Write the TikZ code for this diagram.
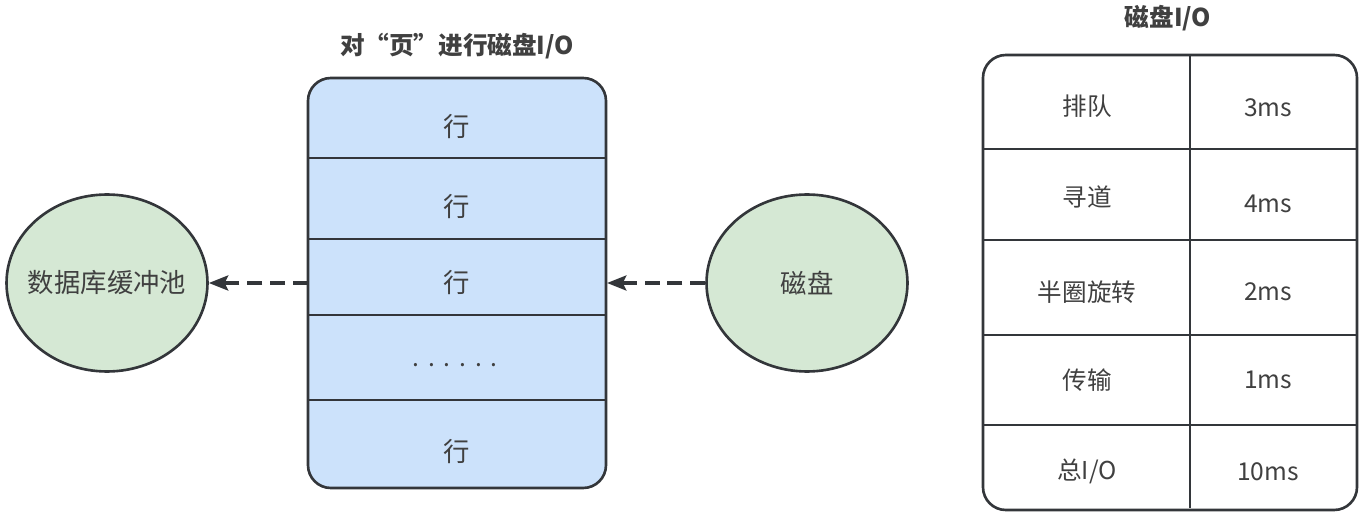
\documentclass[tikz,border=0pt]{standalone}
\usepackage{fontspec}
\setmainfont{Noto Sans CJK SC}
\usetikzlibrary{shapes.geometric, arrows.meta, positioning}

\definecolor{lineC}{HTML}{33363A}
\definecolor{textC}{HTML}{404040}
\definecolor{pageFill}{HTML}{CCE2FB}
\definecolor{ovalFill}{HTML}{D5E8D4}

\tikzset{
  oval/.style={ellipse, draw=lineC, line width=1.5pt, fill=ovalFill, inner sep=0pt, minimum width=4.02cm, minimum height=3.54cm},
  cell/.style={text=textC, font=\fontsize{14}{17}\selectfont},
  big/.style={text=textC, font=\fontsize{15}{18}\selectfont},
  head/.style={text=textC, font=\bfseries\fontsize{14}{17}\selectfont},
  rule/.style={lineC, line width=1.5pt},
  fetch/.style={lineC, line width=2pt, dash pattern=on 8.5pt off 4.5pt, -{Stealth[length=11pt,width=8.5pt,inset=2pt]}}
}

\begin{document}
\begin{tikzpicture}[x=0.02cm, y=-0.02cm]
\useasboundingbox (0,0) rectangle (1366,520);

% page with its rows
\node[head] (pageTitle) at (457,46) {对“页”进行磁盘I/O};
\draw[rule, fill=pageFill, rounded corners=13pt] (308,78) rectangle (606,488);
\coordinate (pageW) at (308,283);
\coordinate (pageE) at (607,283);
\draw[rule] (308,158) -- (606,158);
\draw[rule] (308,239) -- (606,239);
\draw[rule] (308,315) -- (606,315);
\draw[rule] (308,400) -- (606,400);
\node[big] (row1) at (457,127) {行};
\node[big] (row2) at (457,207) {行};
\node[big] (row3) at (457,283) {行};
\node[cell, anchor=base] (rowDots) at (455,366) {.\kern5pt.\kern5pt.\kern5pt.\kern5pt.\kern5pt.};
\node[big] (row5) at (457,452) {行};

% pool and disk
\node[oval, label={[big]center:数据库缓冲池}] (pool) at (107,283) {};
\node[oval, label={[big]center:磁盘}] (disk) at (807,283) {};
\draw[fetch] (pageW) -- (pool.east);
\draw[fetch] (disk.west) -- (pageE);

% cost table
\node[head] (tableTitle) at (1168,18) {磁盘I/O};
\draw[rule, rounded corners=13pt] (983,55) rectangle (1357,510);
\draw[rule] (1190,55) -- (1190,508);
\draw[rule] (983,149) -- (1357,149);
\draw[rule] (983,240) -- (1357,240);
\draw[rule] (983,335) -- (1357,335);
\draw[rule] (983,425) -- (1357,425);
\node[cell] (step1) at (1087,106) {排队};
\node[cell] (time1) at (1268,108) {3ms};
\node[cell] (step2) at (1087,197) {寻道};
\node[cell] (time2) at (1268,204) {4ms};
\node[cell] (step3) at (1087,292) {半圈旋转};
\node[cell] (time3) at (1268,292) {2ms};
\node[cell] (step4) at (1087,380) {传输};
\node[cell] (time4) at (1268,380) {1ms};
\node[cell] (step5) at (1087,471) {总I/O};
\node[cell] (time5) at (1268,472) {10ms};

\end{tikzpicture}
\end{document}
